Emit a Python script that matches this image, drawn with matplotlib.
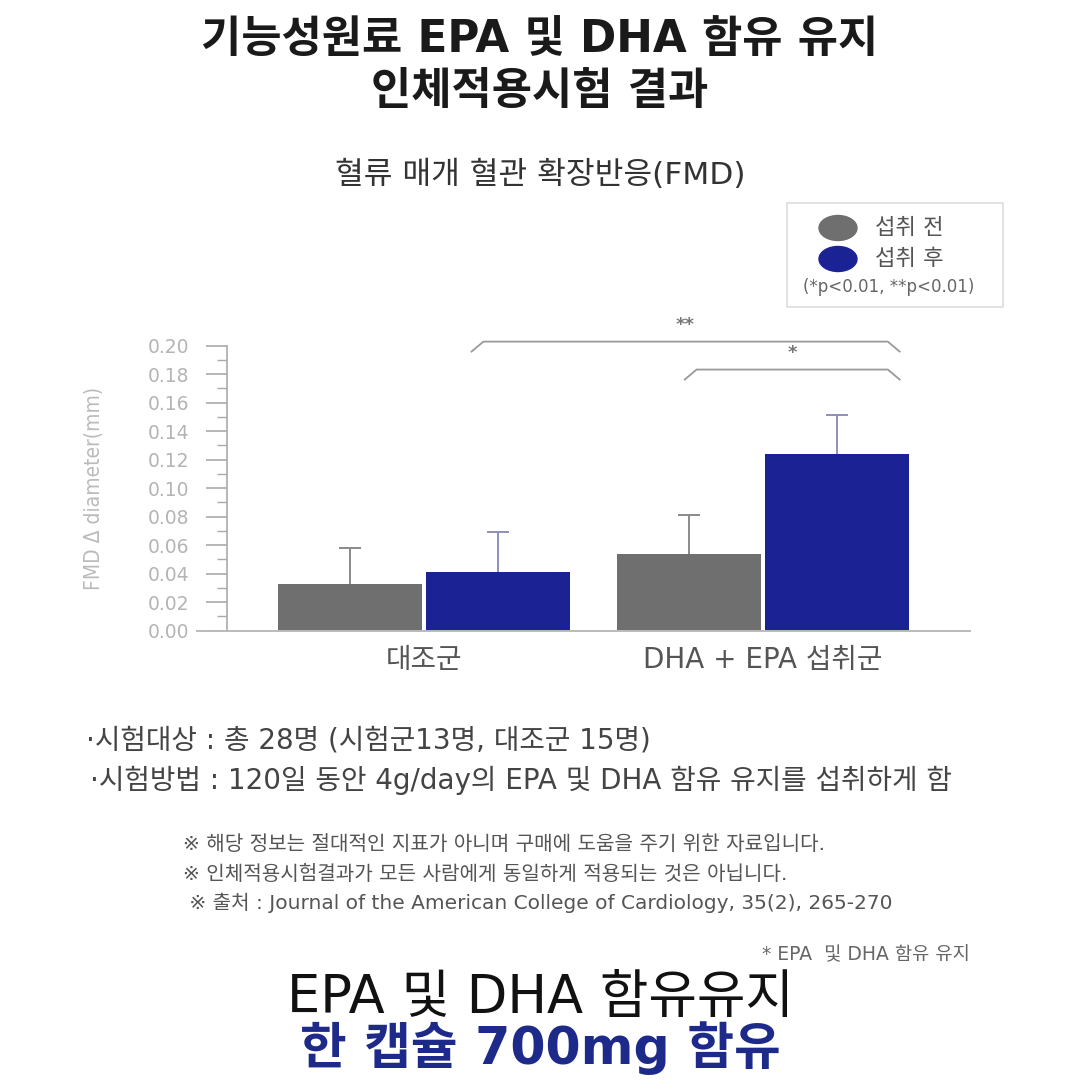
import matplotlib.pyplot as plt
import numpy as np
from matplotlib import ticker
from matplotlib.patches import Ellipse, Rectangle

# DejaVu for the latin letters (wider, closer to the original), Noto for hangul
plt.rcParams['font.family'] = ['DejaVu Sans', 'Noto Sans CJK KR']

# data
groups = ["대조군", "DHA + EPA 섭취군"]
series = ["섭취 전", "섭취 후"]
before = [0.033, 0.054]
after = [0.041, 0.124]
before_err = [0.025, 0.027]
after_err = [0.028, 0.027]
y_ticks = [0.00, 0.02, 0.04, 0.06, 0.08, 0.10, 0.12, 0.14, 0.16, 0.18, 0.20]

# significance brackets: (x start, x end, y level, label)
brackets = [(0.141, 1.404, 0.2028, "**"), (0.770, 1.404, 0.1832, "*")]

gray = "#6f6f6f"
blue = "#1b2294"

fig = plt.figure(figsize=(10.8, 10.8), dpi=100)
ax = fig.add_axes([0.210, 0.416, 0.688, 0.264])

x = np.arange(len(groups))
w = 0.425
off = w / 2 + 0.006
ax.bar(x - off, before, w, color=gray, zorder=2)
ax.bar(x + off, after, w, color=blue, zorder=2)

# upper error bars only
b_top = np.add(before, before_err)
a_top = np.add(after, after_err)
ax.vlines(x - off, before, b_top, color="#8a8a8a", lw=1.4, zorder=1)
ax.plot(x - off, b_top, ls="none", marker="_", ms=16, mew=1.4, color="#8a8a8a")
ax.vlines(x + off, after, a_top, color="#8d8fb8", lw=1.4, zorder=1)
ax.plot(x + off, a_top, ls="none", marker="_", ms=16, mew=1.4, color="#8d8fb8")

ax.set_xlim(-0.581, 1.611)
ax.set_ylim(0, 0.20)
ax.set_yticks(y_ticks)
ax.yaxis.set_major_formatter(ticker.FormatStrFormatter("%.2f"))
ax.yaxis.set_minor_locator(ticker.MultipleLocator(0.01))
ax.tick_params(axis="y", which="major", length=15, width=1.2, color="#aaaaaa",
               labelcolor="#b4b4b4", labelsize=13.5, pad=12)
ax.tick_params(axis="y", which="minor", length=7, width=1.0, color="#aaaaaa")
ax.set_xticks(x)
ax.set_xticklabels(groups, fontsize=20, color="#555555")
ax.tick_params(axis="x", length=0, pad=11)

for s in ["top", "right"]:
    ax.spines[s].set_visible(False)
ax.spines["left"].set_color("#aaaaaa")
ax.spines["left"].set_linewidth(1.2)
ax.spines["bottom"].set_color("#bbbbbb")
ax.spines["bottom"].set_linewidth(1.4)
# baseline reaches left past the axis
ax.plot([-0.04, 0], [0, 0], transform=ax.get_yaxis_transform(), color="#bbbbbb",
        lw=1.4, clip_on=False)

ax.set_ylabel("FMD Δ diameter(mm)", fontsize=15, color="#bbbbbb",
              fontstretch="condensed")
ax.yaxis.set_label_coords(-0.165, 0.5)

for x0, x1, yl, lab in brackets:
    dx = 0.035
    ax.plot([x0, x0 + dx, x1 - dx, x1], [yl - 0.007, yl, yl, yl - 0.007],
            color="#999999", lw=1.3, clip_on=False)
    ax.text((x0 + x1) / 2, yl + 0.005, lab, ha="center", va="bottom",
            fontsize=13, fontweight="bold", color="#777777", clip_on=False)

# titles
fig.text(0.5, 1 - 40 / 1080, "기능성원료 EPA 및 DHA 함유 유지", ha="center", va="center",
         fontsize=31.5, fontweight="bold", color="#1a1a1a")
fig.text(0.5, 1 - 92 / 1080, "인체적용시험 결과", ha="center", va="center",
         fontsize=31.5, fontweight="bold", color="#1a1a1a")
fig.text(0.5, 1 - 175 / 1080, "혈류 매개 혈관 확장반응(FMD)", ha="center", va="center",
         fontsize=22.5, color="#333333")

# legend box
fig.patches.append(Rectangle((787 / 1080, 1 - 307 / 1080), 216 / 1080, 104 / 1080,
                             transform=fig.transFigure, fill=False,
                             edgecolor="#dddddd", lw=1.2))
for i, (name, col) in enumerate(zip(series, [gray, blue])):
    yy = 1 - (228 + 31 * i) / 1080
    fig.patches.append(Ellipse((838 / 1080, yy), 38 / 1080, 25 / 1080,
                               transform=fig.transFigure, color=col))
    fig.text(875 / 1080, yy, name, ha="left", va="center", fontsize=16,
             color="#555555")
fig.text(889 / 1080, 1 - 287 / 1080, "(*p<0.01, **p<0.01)", ha="center",
         va="center", fontsize=12, color="#666666")

# study notes
fig.text(86 / 1080, 1 - 740 / 1080, "·시험대상 : 총 28명 (시험군13명, 대조군 15명)",
         ha="left", va="center", fontsize=20, color="#444444")
fig.text(90 / 1080, 1 - 780 / 1080,
         "·시험방법 : 120일 동안 4g/day의 EPA 및 DHA 함유 유지를 섭취하게 함",
         ha="left", va="center", fontsize=20, color="#444444")

notes = ["※ 해당 정보는 절대적인 지표가 아니며 구매에 도움을 주기 위한 자료입니다.",
         "※ 인체적용시험결과가 모든 사람에게 동일하게 적용되는 것은 아닙니다.",
         " ※ 출처 : Journal of the American College of Cardiology, 35(2), 265-270"]
for i, n in enumerate(notes):
    fig.text(183 / 1080, 1 - (845 + 29 * i) / 1080, n, ha="left", va="center",
             fontsize=14.5, color="#555555")
fig.text(970 / 1080, 1 - 955 / 1080, "* EPA  및 DHA 함유 유지", ha="right",
         va="center", fontsize=13.5, color="#666666")

fig.text(0.5, 1 - 998 / 1080, "EPA 및 DHA 함유유지", ha="center", va="center",
         fontsize=38, color="#111111")
fig.text(0.5, 1 - 1048 / 1080, "한 캡슐 700mg 함유", ha="center", va="center",
         fontsize=36.5, fontweight="bold", color="#1e2a8a")

fig.savefig("out.png", dpi=100, facecolor="white")
